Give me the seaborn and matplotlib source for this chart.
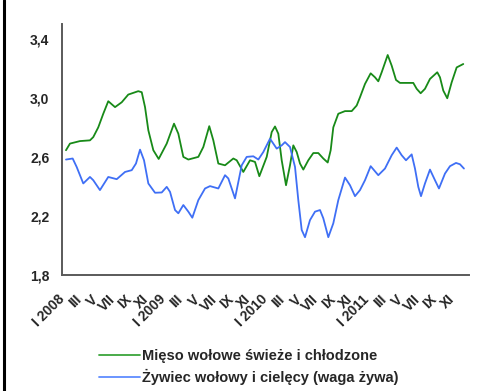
import pandas as pd
import seaborn as sns
import matplotlib.pyplot as plt
from matplotlib.lines import Line2D

# x axis labels, one every 2 months (Jan 2008 .. Nov 2011)
tick_labels = ["I 2008", "III", "V", "VII", "IX", "XI",
               "I 2009", "III", "V", "VII", "IX", "XI",
               "I 2010", "III", "V", "VII", "IX", "XI",
               "I 2011", "III", "V", "VII", "IX", "XI"]

series_names = ["Mięso wołowe świeże i chłodzone",
                "Żywiec wołowy i cielęcy (waga żywa)"]

# months since start of Jan 2008
green_t = [0.47, 0.94, 2.12, 3.30, 3.69, 4.28, 4.87, 5.46, 6.26, 7.05, 7.82, 9.00,
           9.41, 9.80, 10.19, 10.78, 11.41, 12.36, 13.22, 13.73, 14.32, 14.91, 16.09,
           16.68, 17.38, 17.86, 18.45, 19.24, 20.22, 20.62, 21.40, 22.19, 22.78, 23.29,
           24.16, 24.75, 25.14, 25.53, 25.93, 26.44, 26.91, 27.30, 27.70, 28.09, 28.48,
           29.07, 29.66, 30.25, 30.84, 31.36, 31.71, 32.02, 32.61, 33.40, 34.19, 34.78,
           35.17, 35.76, 36.43, 36.94, 37.33, 37.73, 38.44, 38.91, 39.42, 39.89, 41.46,
           41.86, 42.33, 42.84, 43.43, 44.29, 44.61, 45.00, 45.47, 45.99, 46.58, 47.36]
green_val = [2.645, 2.69, 2.707, 2.712, 2.734, 2.80, 2.892, 2.977, 2.937, 2.97, 3.022, 3.045,
             3.038, 2.937, 2.78, 2.645, 2.586, 2.69, 2.825, 2.757, 2.60, 2.582, 2.60,
             2.667, 2.808, 2.712, 2.555, 2.543, 2.589, 2.577, 2.498, 2.577, 2.566, 2.469,
             2.60, 2.768, 2.806, 2.757, 2.577, 2.408, 2.543, 2.678, 2.633, 2.555, 2.514,
             2.577, 2.626, 2.626, 2.589, 2.562, 2.645, 2.80, 2.892, 2.91, 2.91, 2.948,
             3.004, 3.094, 3.166, 3.139, 3.112, 3.173, 3.29, 3.218, 3.121, 3.101, 3.101,
             3.061, 3.031, 3.061, 3.128, 3.173, 3.139, 3.049, 2.997, 3.105, 3.206, 3.229]

blue_t = [0.47, 1.26, 1.73, 2.51, 3.30, 3.69, 4.48, 5.46, 6.46, 7.44, 8.23, 8.73,
          9.21, 9.68, 10.19, 10.98, 11.77, 12.36, 12.75, 13.34, 13.73, 14.32, 14.91,
          15.38, 16.09, 16.88, 17.47, 18.45, 19.24, 19.63, 20.42, 21.21, 21.80, 22.58,
          23.17, 23.76, 24.55, 25.34, 25.93, 26.32, 26.91, 27.50, 27.89, 28.29, 28.68,
          29.27, 29.86, 30.45, 30.84, 31.43, 32.02, 32.61, 33.40, 33.99, 34.58, 35.17,
          35.76, 36.43, 37.33, 38.12, 38.91, 39.50, 40.09, 40.60, 41.27, 41.66, 42.05,
          42.37, 42.84, 43.43, 44.02, 44.49, 45.20, 45.79, 46.50, 46.97, 47.44]
blue_val = [2.582, 2.589, 2.532, 2.42, 2.464, 2.442, 2.375, 2.464, 2.449, 2.498, 2.51, 2.555,
            2.649, 2.577, 2.42, 2.357, 2.359, 2.397, 2.363, 2.24, 2.218, 2.274, 2.229,
            2.188, 2.307, 2.386, 2.402, 2.386, 2.476, 2.454, 2.319, 2.543, 2.60, 2.604,
            2.582, 2.633, 2.723, 2.656, 2.678, 2.70, 2.667, 2.532, 2.307, 2.105, 2.056,
            2.172, 2.229, 2.24, 2.184, 2.056, 2.15, 2.307, 2.46, 2.408, 2.334, 2.375,
            2.442, 2.537, 2.476, 2.521, 2.611, 2.663, 2.611, 2.577, 2.617, 2.521, 2.397,
            2.334, 2.42, 2.514, 2.442, 2.386, 2.487, 2.537, 2.559, 2.55, 2.521]

df = pd.concat([
    pd.DataFrame({"t": green_t, "v": green_val, "series": series_names[0]}),
    pd.DataFrame({"t": blue_t, "v": blue_val, "series": series_names[1]}),
])

sns.set_style("white")
plt.rcParams['font.family'] = ['Liberation Sans', 'DejaVu Sans']
plt.rcParams['font.weight'] = 'bold'

line_colors = ["#188a18", "#3f6ff5"]
legend_colors = ["#3aa53a", "#5f8cff"]
axis_grey = "#5a5a5a"

fig = plt.figure(figsize=(4.83, 3.91), dpi=100)
ax = fig.add_axes([62 / 483, 116 / 391, 406.7 / 483, 251 / 391])

sns.lineplot(data=df, x="t", y="v", hue="series", palette=line_colors,
             estimator=None, sort=False, linewidth=1.3, legend=False, ax=ax)

ax.set_xlim(0, 48)
ax.set_ylim(1.8, 3.5)
ax.set_xlabel("")
ax.set_ylabel("")

ax.set_yticks([1.8, 2.2, 2.6, 3.0, 3.4])
ax.set_yticklabels(["1,8", "2,2", "2,6", "3,0", "3,4"], fontsize=10, fontweight="bold")
ax.set_xticks(range(0, 49, 2))
ax.set_xticklabels(tick_labels + [""], rotation=45, ha="right", va="center",
                   rotation_mode="anchor", fontsize=10, fontweight="bold")

for side in ["top", "right"]:
    ax.spines[side].set_visible(False)
for side in ["left", "bottom"]:
    ax.spines[side].set_color(axis_grey)
    ax.spines[side].set_linewidth(1.4)
ax.tick_params(axis="both", direction="out", length=4, width=1.2, color=axis_grey)
ax.tick_params(axis="x", pad=12)
ax.tick_params(axis="y", pad=5)

handles = [Line2D([], [], color=c, lw=1.3) for c in legend_colors]
fig.legend(handles, series_names, loc="center left",
           bbox_to_anchor=(99 / 483, 24 / 391), frameon=False,
           handlelength=2.8, handletextpad=0.15, labelspacing=0.38,
           prop={"size": 10.5, "weight": "bold"}, borderaxespad=0, borderpad=0)

# frame edge on the left
fig.add_artist(Line2D([4 / 483, 4 / 483], [0, 1], color="black", lw=2.2,
                      transform=fig.transFigure))

fig.savefig("out.png", dpi=100)
